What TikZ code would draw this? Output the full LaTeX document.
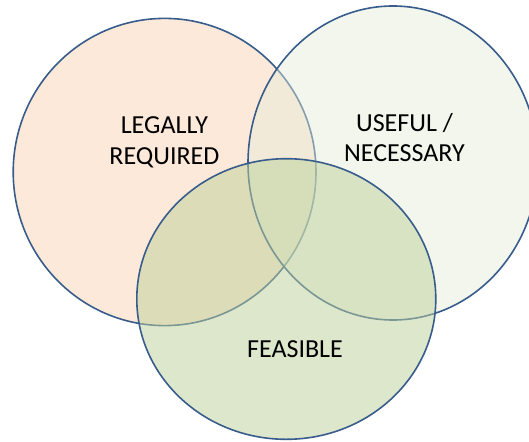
\documentclass[tikz,border=0pt]{standalone}
\usepackage{fontspec}
\setmainfont{Carlito}
\definecolor{ringblue}{RGB}{56,93,140}
\definecolor{peach}{RGB}{253,233,217}
\definecolor{paleleaf}{RGB}{228,237,217}
\definecolor{leaf}{RGB}{189,209,155}
\tikzset{
  ring/.style={draw=ringblue, line width=1.6pt},
  lbl/.style={align=center, text=black, font=\fontsize{26}{30.5}\selectfont, inner sep=0pt}
}
\begin{document}
\begin{tikzpicture}[x=1pt,y=-1pt]
\useasboundingbox (0,0) rectangle (529,441);
\fill[white] (0,0) rectangle (529,441);
% legally required
\draw[ring, fill=peach] (164.6,172) ellipse [x radius=151.4, y radius=153.6];
% useful / necessary
\draw[ring, fill=paleleaf, fill opacity=0.45] (393,163) ellipse [x radius=145, y radius=157];
% feasible
\draw[ring, fill=leaf, fill opacity=0.5] (286.3,299) ellipse [x radius=149.5, y radius=140.3];
\node[lbl] (legal) at (164.4,142.5) {LEGALLY\\REQUIRED};
\node[lbl] (useful) at (404.5,137.5) {USEFUL /\\NECESSARY};
\node[lbl] (feasible) at (295,349.5) {FEASIBLE};
\end{tikzpicture}
\end{document}
